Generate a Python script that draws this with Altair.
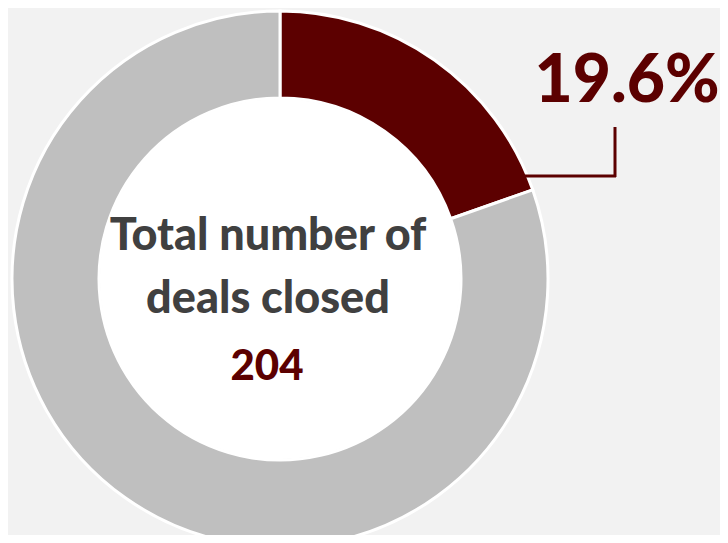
import altair as alt
import pandas as pd
import math

categories = ["Closed share", "Rest"]
values = [19.6, 80.4]
colors = ["#5c0000", "#bfbfbf"]
center_lines = ["Total number of", "deals closed"]
total_deals = "204"
pct_label = "19.6%"

df = pd.DataFrame({"cat": categories, "val": values, "ord": [0, 1]})

CX, CY = 272, 271
R_OUT, R_IN = 268, 181
RED = "#5c0000"
FONT = "Lato"

donut = alt.Chart(df).mark_arc(
    radius=R_OUT, radius2=R_IN, stroke="white", strokeWidth=3
).encode(
    theta=alt.Theta("val:Q", stack=True),
    order=alt.Order("ord:Q"),
    color=alt.Color("cat:N", scale=alt.Scale(domain=categories, range=colors), legend=None),
    x=alt.value(CX), y=alt.value(CY),
)

hole = alt.Chart(pd.DataFrame({"v": [1]})).mark_arc(
    radius=R_IN - 1, fill="white", strokeWidth=0, theta=0, theta2=2 * math.pi
).encode(x=alt.value(CX), y=alt.value(CY))

txt_df = pd.DataFrame({"t": center_lines, "yy": [242, 305]})
center_txt = alt.Chart(txt_df).mark_text(
    font=FONT, fontWeight=900, fontSize=45, color="#404040", baseline="alphabetic", align="center"
).encode(text="t:N", x=alt.value(260), y=alt.Y("yy:Q", scale=None))

num_txt = alt.Chart(pd.DataFrame({"t": [total_deals]})).mark_text(
    font=FONT, fontWeight=900, fontSize=42, color=RED, baseline="alphabetic", align="center"
).encode(text="t:N", x=alt.value(259), y=alt.value(372))

pct_txt = alt.Chart(pd.DataFrame({"t": [pct_label]})).mark_text(
    font=FONT, fontWeight=900, fontSize=66, color=RED, baseline="alphabetic", align="center"
).encode(text="t:N", x=alt.value(619), y=alt.value(94))

h_rule = alt.Chart(pd.DataFrame({"v": [1]})).mark_rule(color=RED, strokeWidth=3).encode(
    x=alt.value(517), x2=alt.value(608), y=alt.value(168)
)
v_rule = alt.Chart(pd.DataFrame({"v": [1]})).mark_rule(color=RED, strokeWidth=3).encode(
    x=alt.value(607), y=alt.value(119), y2=alt.value(169)
)

chart = alt.layer(donut, hole, h_rule, v_rule, center_txt, num_txt, pct_txt).properties(
    width=712, height=527, background="#f2f2f2", padding=0,
    autosize=alt.AutoSizeParams(type="none")
).configure_view(strokeWidth=0)

chart.save("out.html", embed_options={"renderer": "svg", "actions": False})
